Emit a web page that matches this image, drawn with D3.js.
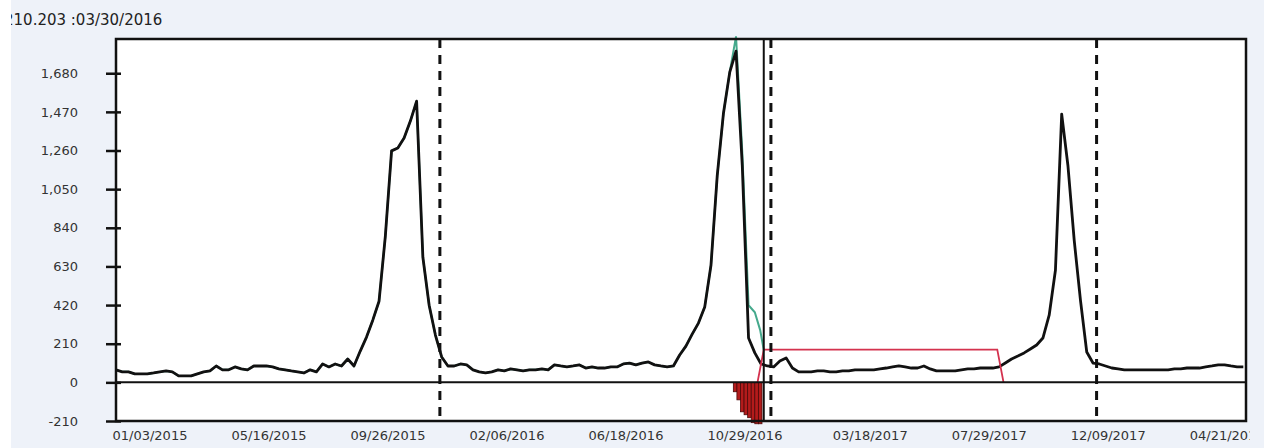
<!DOCTYPE html>
<html>
<head>
<meta charset="utf-8">
<script src="https://cdn.jsdelivr.net/npm/d3@7"></script>
<style>
  body { margin: 0; background: #fff; }
  svg { display: block; font-family: "DejaVu Sans", sans-serif; }
</style>
</head>
<body>
<div id="chart"></div>
<script>
// weekly series, first point on 2015-01-03
const seriesStart = "2015-01-03";
const weeklyValues = [
  68, 57, 57, 46, 46, 46, 51, 57, 62, 57,
  35, 35, 35, 46, 57, 62, 89, 68, 68, 84,
  73, 68, 89, 89, 89, 84, 73, 68, 62, 57,
  51, 68, 57, 100, 84, 100, 89, 127, 89, 170,
  246, 338, 441, 792, 1258, 1274, 1328, 1420, 1528, 680,
  419, 257, 138, 89, 89, 100, 95, 68, 57, 51,
  57, 68, 62, 73, 68, 62, 68, 68, 73, 68,
  95, 89, 84, 89, 95, 78, 84, 78, 78, 84,
  84, 100, 105, 95, 105, 111, 95, 89, 84, 89,
  149, 197, 262, 322, 409, 636, 1123, 1464, 1686, 1800,
  1177, 241, 160, 100, 89, 84, 116, 133, 78, 57,
  57, 57, 62, 62, 57, 57, 62, 62, 68, 68,
  68, 68, 73, 78, 84, 89, 84, 78, 78, 89,
  73, 62, 62, 62, 62, 68, 73, 73, 78, 78,
  78, 84, 105, 127, 143, 160, 181, 203, 241, 365,
  609, 1458, 1177, 771, 446, 165, 105, 100, 89, 78,
  73, 68, 68, 68, 68, 68, 68, 68, 68, 73,
  73, 78, 78, 78, 84, 89, 95, 95, 89, 84, 84
];

// green series follows the black one, then splits off after the second peak
const greenSplitIndex = 99;
const greenTailDates = ["2016-11-26", "2016-12-03", "2016-12-10", "2016-12-17", "2016-12-23", "2016-12-27"];
const greenTailValues = [1880, 1250, 419, 381, 284, 176];

const barDates = ["2016-11-23", "2016-11-27", "2016-12-01", "2016-12-05", "2016-12-09", "2016-12-13", "2016-12-17", "2016-12-21"];
const barValues = [-51, -95, -160, -176, -192, -219, -225, -225];

const redDates = ["2016-12-20", "2016-12-27", "2017-09-14", "2017-09-21"];
const redValues = [0, 178, 178, 0];

const markerDates = ["2015-12-31", "2017-01-04", "2018-01-03"];
const cursorDate = "2016-12-27";

const xTickLabels = ["01/03/2015", "05/16/2015", "09/26/2015", "02/06/2016", "06/18/2016",
  "10/29/2016", "03/18/2017", "07/29/2017", "12/09/2017", "04/21/2018"];
const yTicks = [-210, 0, 210, 420, 630, 840, 1050, 1260, 1470, 1680];
const headerText = "210.203 :03/30/2016";

const W = 1264, H = 448;
const plot = { left: 116, right: 1246, top: 39, bottom: 421 };
const parse = d3.timeParse("%Y-%m-%d");
const parseTick = d3.timeParse("%m/%d/%Y");

const svg = d3.select("#chart").append("svg")
  .attr("width", W).attr("height", H);

// panel background
svg.append("rect").attr("x", 11).attr("y", 0).attr("width", W - 11).attr("height", H)
  .attr("fill", "#eef2f9");

const defs = svg.append("defs");
defs.append("clipPath").attr("id", "panel")
  .append("rect").attr("x", 11).attr("y", 0).attr("width", 1239).attr("height", H);

svg.append("text")
  .attr("clip-path", "url(#panel)")
  .attr("x", 4).attr("y", 25)
  .attr("font-size", 15).attr("fill", "#222")
  .text(headerText);

const x = d3.scaleTime()
  .domain([parse("2015-01-03"), parse("2018-06-19")])
  .range([plot.left, plot.right]);
const y = d3.scaleLinear()
  .domain([-210, 1866])
  .range([plot.bottom, plot.top]);

svg.append("rect")
  .attr("x", plot.left).attr("y", plot.top)
  .attr("width", plot.right - plot.left).attr("height", plot.bottom - plot.top)
  .attr("fill", "#fff");

const start = parse(seriesStart);
const mainData = weeklyValues.map((v, i) => ({ date: d3.timeDay.offset(start, 7 * i), value: v }));
const greenData = mainData.slice(0, greenSplitIndex)
  .concat(greenTailDates.map((d, i) => ({ date: parse(d), value: greenTailValues[i] })));
const redData = redDates.map((d, i) => ({ date: parse(d), value: redValues[i] }));
const barData = barDates.map((d, i) => ({ date: parse(d), value: barValues[i] }));

const line = d3.line().x(d => x(d.date)).y(d => y(d.value));

// bars
svg.append("g").selectAll("rect")
  .data(barData)
  .enter()
  .append("rect")
  .attr("x", d => x(d.date))
  .attr("width", d => x(d3.timeDay.offset(d.date, 4)) - x(d.date))
  .attr("y", y(0))
  .attr("height", d => y(d.value) - y(0))
  .attr("fill", "#b31b1b")
  .attr("stroke", "#4d0808")
  .attr("stroke-width", 0.8);

svg.append("path").datum(greenData)
  .attr("d", line).attr("fill", "none")
  .attr("stroke", "#45a98c").attr("stroke-width", 2);

svg.append("path").datum(mainData)
  .attr("d", line).attr("fill", "none")
  .attr("stroke", "#111").attr("stroke-width", 2.8)
  .attr("stroke-linejoin", "round");

svg.append("path").datum(redData)
  .attr("d", line).attr("fill", "none")
  .attr("stroke", "#d4324e").attr("stroke-width", 1.8);

// zero line
svg.append("line")
  .attr("x1", plot.left).attr("x2", plot.right)
  .attr("y1", y(0)).attr("y2", y(0))
  .attr("stroke", "#111").attr("stroke-width", 2);

// dashed year markers
svg.append("g").selectAll("line")
  .data(markerDates)
  .enter()
  .append("line")
  .attr("x1", d => x(parse(d))).attr("x2", d => x(parse(d)))
  .attr("y1", plot.top).attr("y2", plot.bottom)
  .attr("stroke", "#111").attr("stroke-width", 3)
  .attr("stroke-dasharray", "9,7");

svg.append("line")
  .attr("x1", x(parse(cursorDate))).attr("x2", x(parse(cursorDate)))
  .attr("y1", plot.top).attr("y2", plot.bottom)
  .attr("stroke", "#111").attr("stroke-width", 2);

// frame
svg.append("rect")
  .attr("x", plot.left).attr("y", plot.top)
  .attr("width", plot.right - plot.left).attr("height", plot.bottom - plot.top)
  .attr("fill", "none").attr("stroke", "#111").attr("stroke-width", 2.5);

// y axis
const fmt = d3.format(",");
const yAxis = svg.append("g").attr("transform", `translate(${plot.left},0)`)
  .call(d3.axisLeft(y).tickValues(yTicks).tickFormat(d => fmt(d).replace("\u2212", "-")).tickSize(10).tickPadding(28));
yAxis.select(".domain").remove();
yAxis.selectAll(".tick line").attr("stroke", "#111").attr("stroke-width", 2.5).attr("x2", -10).attr("x1", 5);
yAxis.selectAll(".tick text").attr("font-size", 13).attr("fill", "#333")
  .attr("font-family", "DejaVu Sans, sans-serif");

// x axis
const xTicks = xTickLabels.map(s => parseTick(s));
const xAxis = svg.append("g").attr("transform", `translate(0,${plot.bottom})`)
  .attr("clip-path", "url(#panel)")
  .call(d3.axisBottom(x).tickValues(xTicks).tickFormat(d3.timeFormat("%m/%d/%Y")).tickSize(0));
xAxis.select(".domain").remove();
xAxis.selectAll(".tick line").attr("stroke", "#111").attr("stroke-width", 2.5).attr("y1", 0).attr("y2", -6);
xAxis.selectAll(".tick text")
  .attr("text-anchor", "start").attr("x", -4).attr("y", 10)
  .attr("font-size", 13).attr("fill", "#333")
  .attr("font-family", "DejaVu Sans, sans-serif");
</script>
</body>
</html>
